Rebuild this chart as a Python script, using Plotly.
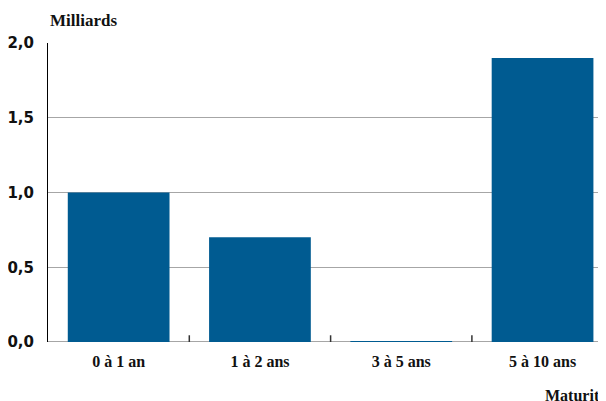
import plotly.graph_objects as go

categories = ["0 à 1 an", "1 à 2 ans", "3 à 5 ans", "5 à 10 ans"]
values = [1.0, 0.7, 0.004, 1.9]
y_ticks = [0, 0.5, 1.0, 1.5, 2.0]

SERIF = "Liberation Serif"

fig = go.Figure()
fig.add_trace(go.Bar(
    x=list(range(len(categories))), y=values,
    marker=dict(color="#005b91", line=dict(width=0)),
    width=0.72,
))

fig.update_layout(
    width=606, height=401,
    margin=dict(l=40, r=8, t=35, b=67, autoexpand=False),
    paper_bgcolor="white", plot_bgcolor="white",
    separators=", ",
    showlegend=False,
    xaxis=dict(
        range=[-0.5, 3.449],
        tickmode="array", tickvals=list(range(len(categories))), ticktext=categories,
        tickfont=dict(family=SERIF, size=16, color="#111", weight="bold"),
        showgrid=False, zeroline=False,
        showline=False, automargin=False,
        ticks="", ticklabelstandoff=8,
    ),
    yaxis=dict(
        range=[0, 2.0],
        tickmode="array", tickvals=y_ticks,
        tickformat=".1f",
        tickfont=dict(family="DejaVu Sans", size=15, color="#111", weight="bold"),
        showgrid=True, gridcolor="#a6a6a6", gridwidth=1,
        zeroline=False, automargin=False,
        showline=True, linecolor="#000", linewidth=1,
        ticks="", ticklabelstandoff=10,
    ),
    annotations=[
        dict(text="Milliards", xref="paper", yref="paper", x=0, y=1,
             xanchor="left", yanchor="middle", yshift=23, showarrow=False,
             font=dict(family=SERIF, size=17, color="#111", weight="bold")),
        dict(text="Maturité", xref="paper", yref="paper", x=0.887, y=0,
             xanchor="left", yanchor="middle", yshift=-53, showarrow=False,
             font=dict(family=SERIF, size=16, color="#111", weight="bold")),
    ],
)

# baseline (gray) and boundary tick marks
fig.add_shape(type="line", xref="paper", yref="y", x0=0, x1=1, y0=0, y1=0,
              line=dict(color="#a6a6a6", width=2), layer="below")
for b in [0.5, 1.5, 2.5]:
    fig.add_shape(type="line", xref="x", yref="y", x0=b, x1=b, y0=0, y1=0.045,
                  line=dict(color="#333", width=1.5))

fig.write_html("out.html")
